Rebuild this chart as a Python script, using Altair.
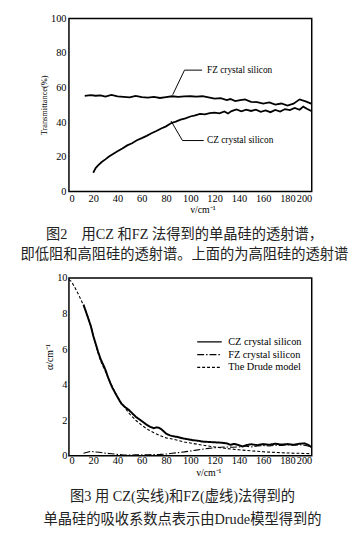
import altair as alt
import pandas as pd

# ---------------- Figure 2 : transmittance ----------------
t_fz_x = [13, 18, 22, 26, 30, 35, 40, 45, 50, 55, 60, 65, 70, 75, 80, 85, 90, 95, 100, 105,
          110, 115, 120, 125, 130, 133, 137, 140, 145, 150, 155, 160, 165, 170, 175, 180, 185,
          190, 195, 200]
t_fz_y = [55.2, 55.6, 55.3, 55.5, 54.8, 55.8, 54.9, 54.6, 54.3, 55.2, 54.5, 54.2, 54.6, 54.0,
          54.5, 55.0, 54.7, 54.9, 55.0, 54.8, 55.0, 54.3, 53.6, 53.9, 52.8, 53.4, 52.2, 52.6,
          53.2, 51.8, 51.6, 50.8, 51.4, 50.2, 50.8, 49.6, 50.7, 53.2, 52.0, 50.6]
t_cz_x = [20, 22, 24, 27, 30, 33, 36, 40, 44, 48, 52, 56, 60, 64, 68, 72, 76, 80, 84, 88, 92,
          96, 100, 104, 108, 112, 116, 120, 124, 128, 131, 134, 138, 142, 146, 150, 154, 158,
          162, 166, 170, 174, 178, 182, 186, 190, 193, 196, 200]
t_cz_y = [10.8, 13.5, 15.0, 17.0, 18.5, 20.2, 21.5, 23.2, 24.8, 26.6, 27.8, 29.6, 30.8, 32.1,
          33.6, 34.9, 36.4, 37.6, 39.4, 40.3, 41.5, 42.2, 43.3, 43.9, 44.8, 44.5, 45.3, 45.6,
          45.1, 46.2, 45.0, 46.4, 47.4, 46.3, 47.2, 46.5, 47.3, 46.0, 46.8, 45.8, 47.1, 46.2,
          47.6, 47.0, 48.3, 47.2, 49.0, 47.8, 46.3]

fz_label = "FZ crystal silicon"
cz_label = "CZ crystal silicon"
fz_leader_x = [109.7, 95.2, 85.5]
fz_leader_y = [70.1, 70.1, 55.9]
cz_leader_x = [111.0, 93.5, 84.1]
cz_leader_y = [29.4, 29.4, 40.7]
label_x = [113.7, 113.7]
label_y = [70.1, 29.4]

cap2 = ["图2　用CZ 和FZ 法得到的单晶硅的透射谱，",
        "即低阻和高阻硅的透射谱。上面的为高阻硅的透射谱"]

# ---------------- Figure 3 : absorption ----------------
a_cz_x = [12, 14, 16, 18, 20, 22, 24, 26, 28, 30, 32, 34, 36, 38, 40, 43, 46, 49, 52, 55, 58,
          61, 64, 67, 70, 72, 74, 76, 78, 80, 83, 86, 90, 94, 98, 102, 106, 110, 115, 120, 125,
          130, 133, 136, 140, 143, 146, 150, 155, 160, 165, 170, 175, 180, 185, 190, 194, 197, 200]
a_cz_y = [8.5, 8.1, 7.7, 7.3, 6.75, 6.3, 5.85, 5.45, 5.15, 4.85, 4.45, 4.1, 3.8, 3.55, 3.3,
          2.95, 2.75, 2.6, 2.4, 2.2, 2.05, 1.9, 1.75, 1.63, 1.55, 1.6, 1.58, 1.5, 1.38, 1.25,
          1.15, 1.1, 1.05, 0.98, 0.93, 0.88, 0.85, 0.8, 0.78, 0.76, 0.74, 0.7, 0.62, 0.67, 0.6,
          0.52, 0.6, 0.65, 0.6, 0.66, 0.62, 0.68, 0.63, 0.66, 0.62, 0.68, 0.7, 0.62, 0.48]
a_fz_x = [12, 15, 18, 21, 25, 30, 35, 40, 45, 50, 55, 60, 65, 70, 75, 80, 85, 90, 95, 100, 105,
          110, 115, 120, 125, 130, 135, 140, 145, 150, 155, 160, 165, 170, 175, 180, 185, 190,
          195, 200]
a_fz_y = [0.15, 0.2, 0.25, 0.22, 0.2, 0.15, 0.12, 0.08, 0.05, 0.04, 0.06, 0.05, 0.06, 0.07,
          0.08, 0.1, 0.14, 0.18, 0.22, 0.27, 0.32, 0.37, 0.42, 0.45, 0.48, 0.5, 0.48, 0.5, 0.55,
          0.5, 0.55, 0.58, 0.55, 0.6, 0.58, 0.62, 0.6, 0.62, 0.58, 0.5]
a_dr_x = [0, 2, 5, 8, 10, 12, 15, 18, 20, 23, 26, 30, 33, 36, 40, 45, 50, 55, 60, 65, 70, 75,
          80, 85, 90, 95, 100, 110, 120, 130, 140, 150, 160, 170, 180, 190, 200]
a_dr_y = [9.9, 9.8, 9.45, 9.05, 8.75, 8.45, 7.95, 7.3, 6.8, 6.0, 5.35, 4.75, 4.3, 3.85, 3.3,
          2.8, 2.35, 2.0, 1.72, 1.48, 1.3, 1.14, 1.01, 0.95, 0.86, 0.78, 0.72, 0.6, 0.5, 0.41,
          0.34, 0.28, 0.23, 0.19, 0.16, 0.14, 0.12]

series3 = ["CZ crystal silicon", "FZ crystal silicon", "The Drude model"]
cap3 = ["图3 用 CZ(实线)和FZ(虚线)法得到的",
        "单晶硅的吸收系数点表示由Drude模型得到的"]

SERIF = "Liberation Serif"
CAPFONT = "Liberation Serif, Noto Sans CJK SC"

# ---------------- build tables ----------------
top_df = pd.concat([
    pd.DataFrame({"nu": t_fz_x, "T": t_fz_y, "series": "FZ"}),
    pd.DataFrame({"nu": t_cz_x, "T": t_cz_y, "series": "CZ"}),
])
lead_df = pd.concat([
    pd.DataFrame({"nu": fz_leader_x, "T": fz_leader_y, "series": "FZ", "i": [0, 1, 2]}),
    pd.DataFrame({"nu": cz_leader_x, "T": cz_leader_y, "series": "CZ", "i": [0, 1, 2]}),
])
lab_df = pd.DataFrame({"nu": label_x, "T": label_y, "txt": [fz_label, cz_label]})

x_top = alt.X("nu:Q", scale=alt.Scale(domain=[0, 200], nice=False),
              axis=alt.Axis(values=list(range(0, 201, 20)), title="ν/cm⁻¹",
                            labelPadding=2, titlePadding=1, titleFontSize=10, titleX=136))
y_top = alt.Y("T:Q", scale=alt.Scale(domain=[0, 100], nice=False),
              axis=alt.Axis(values=list(range(0, 101, 20)), title="Transmittance(%)",
                            labelPadding=3, titlePadding=2, titleFontSize=8.5))

top_lines = alt.Chart(top_df).mark_line(color="black", strokeWidth=1.8).encode(
    x=x_top, y=y_top, detail="series:N")
top_lead = alt.Chart(lead_df).mark_line(color="black", strokeWidth=1).encode(
    x=x_top, y=y_top, detail="series:N", order="i:O")
top_text = alt.Chart(lab_df).mark_text(align="left", baseline="middle", font=SERIF,
                                       fontSize=9.5, color="black").encode(
    x=x_top, y=y_top, text="txt:N")

top = alt.layer(top_lines, top_lead, top_text).properties(
    width=247, height=176,
    title=alt.TitleParams(text=cap2, orient="bottom", anchor="middle", font=CAPFONT,
                          fontSize=14.5, fontWeight="normal", lineHeight=20, offset=14,
                          color="#222", dx=-6))

bot_df = pd.concat([
    pd.DataFrame({"nu": a_cz_x, "a": a_cz_y, "series": series3[0]}),
    pd.DataFrame({"nu": a_fz_x, "a": a_fz_y, "series": series3[1]}),
    pd.DataFrame({"nu": a_dr_x, "a": a_dr_y, "series": series3[2]}),
])

x_bot = alt.X("nu:Q", scale=alt.Scale(domain=[0, 200], nice=False),
              axis=alt.Axis(values=list(range(0, 201, 20)), title="ν/cm⁻¹",
                            labelPadding=0, titlePadding=2, titleFontSize=10, titleX=142))
y_bot = alt.Y("a:Q", scale=alt.Scale(domain=[0, 10], nice=False),
              axis=alt.Axis(values=list(range(0, 11, 2)), title="α/cm⁻¹",
                            labelPadding=2, titlePadding=2, titleFontSize=10, titleY=80))

dash = alt.StrokeDash(
    "series:N",
    scale=alt.Scale(domain=series3, range=[[1, 0], [7, 2, 1.5, 2], [3, 2]]),
    legend=alt.Legend(title=None, orient="none", legendX=136, legendY=322,
                      symbolType="M-2,0H2", symbolSize=156, symbolStrokeColor="black",
                      symbolStrokeWidth=1.3, labelFont=SERIF, labelFontSize=10.5,
                      labelColor="black", rowPadding=0, labelOffset=12))

bot_cz = alt.Chart(bot_df).transform_filter(
    alt.datum.series == series3[0]
).mark_line(color="black", strokeWidth=2).encode(x=x_bot, y=y_bot, strokeDash=dash)
bot_other = alt.Chart(bot_df).transform_filter(
    alt.datum.series != series3[0]
).mark_line(color="black", strokeWidth=1.1).encode(x=x_bot, y=y_bot, strokeDash=dash)

bottom = alt.layer(bot_cz, bot_other).properties(
    width=247, height=181,
    title=alt.TitleParams(text=cap3, orient="bottom", anchor="middle", font=CAPFONT,
                          fontSize=14.5, fontWeight="normal", lineHeight=24, offset=12,
                          color="#222", dx=-8))

chart = alt.vconcat(top, bottom, spacing=10).configure_view(
    stroke="black", strokeWidth=1.5
).configure_axis(
    grid=False, domain=False, ticks=False, labelFont=SERIF, labelFontSize=10.5,
    labelColor="black", labelOverlap=False, titleFont=SERIF, titleFontWeight="normal",
    titleColor="black"
).properties(padding={"left": 12, "top": 0, "right": 5, "bottom": 5})

chart.save("out.html", embed_options={"renderer": "svg", "actions": False})
